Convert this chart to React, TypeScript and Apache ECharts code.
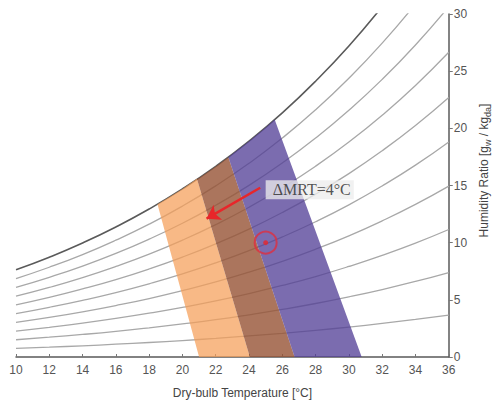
import React, { useEffect, useRef } from "react";
import * as echarts from "echarts";

// Dry-bulb temperatures (°C) at which the curves were read
const temps = [10, 12, 14, 16, 18, 20, 22, 24, 26, 28, 30, 32, 34, 36];

// Humidity ratio (g/kg) of each relative-humidity curve
const rh10 = [0.76, 0.86, 0.98, 1.12, 1.27, 1.44, 1.63, 1.84, 2.07, 2.33, 2.62, 2.94, 3.29, 3.67];
const rh20 = [1.51, 1.73, 1.97, 2.24, 2.55, 2.89, 3.26, 3.69, 4.16, 4.68, 5.26, 5.9, 6.61, 7.39];
const rh30 = [2.27, 2.6, 2.96, 3.37, 3.83, 4.34, 4.91, 5.55, 6.26, 7.04, 7.92, 8.89, 9.96, 11.15];
const rh40 = [3.03, 3.46, 3.95, 4.5, 5.11, 5.8, 6.56, 7.42, 8.37, 9.43, 10.6, 11.91, 13.35, 14.95];
const rh50 = [3.79, 4.34, 4.95, 5.63, 6.4, 7.26, 8.23, 9.3, 10.5, 11.83, 13.31, 14.96, 16.78, 18.81];
const rh60 = [4.56, 5.21, 5.95, 6.77, 7.7, 8.74, 9.9, 11.19, 12.64, 14.25, 16.04, 18.04, 20.25, 22.7];
const rh70 = [5.32, 6.09, 6.95, 7.92, 9.0, 10.22, 11.58, 13.1, 14.8, 16.69, 18.8, 21.15, 23.75, 26.65];
const rh80 = [6.09, 6.97, 7.95, 9.06, 10.31, 11.7, 13.27, 15.01, 16.97, 19.15, 21.58, 24.28, 27.29, 30.64];
const rh90 = [6.86, 7.85, 8.96, 10.22, 11.62, 13.2, 14.97, 16.94, 19.15, 21.62, 24.38, 27.45, 30.87];
const rh100 = [7.63, 8.73, 9.97, 11.37, 12.94, 14.7, 16.67, 18.88, 21.35, 24.12, 27.2, 30.65];

const rhCurves = [rh10, rh20, rh30, rh40, rh50, rh60, rh70, rh80, rh90];

// Comfort zones [T, W]
const orangeZone = [[21, 0], [24.05, 0], [20.87, 15.59], [20, 14.7], [19, 13.79], [18.5, 13.36]];
const brownZone = [[24.05, 0], [26.74, 0], [22.76, 17.48], [22, 16.67], [21, 15.65], [20.87, 15.59]];
const purpleZone = [[26.74, 0], [30.77, 0], [25.54, 20.78], [25, 20.08], [24, 18.88], [23, 17.75], [22.76, 17.48]];

// Annotations
const statePoint = [25, 10];
const arrowFrom = [24.67, 14.8];
const arrowTo = [21.45, 12.1];
const labelAnchor = [24.97, 14.63];
const labelText = "ΔMRT=4°C";

const xTitle = "Dry-bulb Temperature [°C]";

const zones = [
  { pts: orangeZone, color: "rgba(245,158,88,0.72)" },
  { pts: brownZone, color: "rgba(150,82,52,0.8)" },
  { pts: purpleZone, color: "rgba(82,62,150,0.76)" },
];

function toData(arr: number[]) {
  return arr.map((w, i) => [temps[i], w]);
}

export default function App() {
  const ref = useRef<HTMLDivElement>(null);
  useEffect(() => {
    if (!ref.current) return;
    const chart = echarts.init(ref.current, null, { renderer: "svg" });
    const lineSeries: any[] = rhCurves.map((arr, k) => ({
      type: "line",
      name: "rh" + (k + 1) * 10,
      data: toData(arr),
      smooth: true,
      showSymbol: false,
      symbol: "none",
      clip: true,
      lineStyle: { color: "#a8a8a8", width: 1.3 },
      z: 1,
      silent: true,
    }));
    lineSeries.push({
      type: "line",
      name: "saturation",
      data: toData(rh100),
      smooth: true,
      showSymbol: false,
      symbol: "none",
      clip: true,
      lineStyle: { color: "#5a5a5a", width: 1.6 },
      z: 1,
      silent: true,
    });
    const option: any = {
      animation: false,
      textStyle: { fontFamily: "Liberation Sans, Arial, sans-serif" },
      grid: { left: 16, right: 49, top: 14, bottom: 48, containLabel: false },
      xAxis: {
        type: "value",
        min: 10,
        max: 36,
        interval: 2,
        axisLine: { show: true, onZero: false, lineStyle: { color: "#5a5a5a", width: 1.5 } },
        axisTick: { show: true, inside: true, length: 3, lineStyle: { color: "#777" } },
        axisLabel: { color: "#555", fontSize: 12, margin: 7 },
        splitLine: { show: false },
        name: xTitle,
        nameLocation: "middle",
        nameGap: 30,
        nameTextStyle: { color: "#444", fontSize: 12, padding: [0, 0, 0, 20] },
      },
      yAxis: {
        type: "value",
        position: "right",
        min: 0,
        max: 30,
        interval: 5,
        axisLine: { show: true, lineStyle: { color: "#5a5a5a", width: 1.5 } },
        axisTick: { show: true, inside: false, length: 4, lineStyle: { color: "#777" } },
        axisLabel: { color: "#555", fontSize: 12, margin: 5 },
        splitLine: { show: false },
        name: "{a|Humidity Ratio [g}{s|w}{a| / kg}{s|da}{a|]}",
        nameLocation: "middle",
        nameGap: 26,
        nameTextStyle: {
          color: "#444",
          fontSize: 12,
          padding: [0, 0, 0, 30],
          rich: {
            a: { fontSize: 12, color: "#444", lineHeight: 16, verticalAlign: "middle" },
            s: { fontSize: 9, color: "#444", verticalAlign: "bottom", lineHeight: 10 },
          },
        },
      },
      series: [
        ...lineSeries,
        {
          type: "custom",
          name: "zones",
          data: zones.map((_, i) => [i]),
          z: 2,
          silent: true,
          renderItem: (params: any, api: any) => {
            const zone = zones[params.dataIndex];
            return {
              type: "polygon",
              shape: { points: zone.pts.map((p) => api.coord(p)) },
              style: { fill: zone.color, stroke: "none" },
            };
          },
        },
        {
          type: "line",
          name: "arrow",
          data: [],
          z: 5,
          markLine: {
            silent: true,
            symbol: ["none", "arrow"],
            symbolSize: 13,
            label: { show: false },
            lineStyle: { color: "#e8262a", width: 2.5, type: "solid" },
            itemStyle: { color: "#e8262a" },
            data: [[{ coord: arrowFrom }, { coord: arrowTo }]],
          },
        },
        {
          type: "scatter",
          name: "ring",
          data: [statePoint],
          symbol: "circle",
          symbolSize: 22,
          z: 6,
          silent: true,
          itemStyle: { color: "transparent", borderColor: "#df3040", borderWidth: 2 },
        },
        {
          type: "scatter",
          name: "dot",
          data: [statePoint],
          symbol: "circle",
          symbolSize: 5,
          z: 7,
          silent: true,
          itemStyle: { color: "#e8262a" },
        },
        {
          type: "scatter",
          name: "label",
          data: [labelAnchor],
          symbol: "circle",
          symbolSize: 1,
          z: 8,
          silent: true,
          itemStyle: { color: "transparent" },
          label: {
            show: true,
            position: "right",
            distance: 0,
            formatter: labelText,
            fontFamily: "Liberation Serif, Times New Roman, serif",
            fontSize: 16,
            color: "#2a2a2a",
            backgroundColor: "rgba(236,236,236,0.95)",
            padding: [2, 3, 1, 7],
          },
        },
      ],
    };
    chart.setOption(option);
    return () => chart.dispose();
  }, []);
  return (
    <div
      ref={ref}
      style={{ position: "fixed", left: 0, top: 0, width: 500, height: 405, background: "#fff" }}
    />
  );
}
